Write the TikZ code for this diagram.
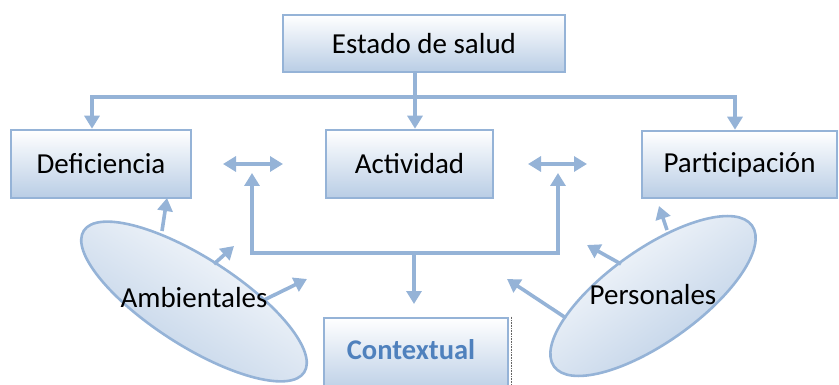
\documentclass[tikz,border=0pt]{standalone}
\usepackage{fontspec}
\setmainfont{Carlito}
\usetikzlibrary{arrows.meta,shapes.geometric}
\definecolor{lblue}{HTML}{95B3D7}
\definecolor{fblue}{HTML}{B9CDE5}
\definecolor{tblue}{HTML}{4F81BD}
\tikzset{
  box/.style={draw=lblue, line width=2.6pt, top color=white, bottom color=fblue, inner sep=0pt,
    font=\fontsize{29}{34}\selectfont},
  oval/.style={ellipse, draw=lblue, line width=2.6pt, top color=white, bottom color=fblue, inner sep=0pt},
  conn/.style={draw=lblue, line width=3.6pt},
  arr/.style={conn, -{Triangle[width=15pt,length=13pt]}},
  darr/.style={conn, {Triangle[width=15pt,length=13pt]}-{Triangle[width=15pt,length=13pt]}},
  lbl/.style={font=\fontsize{29}{34}\selectfont, inner sep=0pt}
}
\begin{document}
\begin{tikzpicture}[x=1pt,y=-1pt]
\useasboundingbox (0,0) rectangle (839,385);
% boxes
\node[box, minimum width=282pt, minimum height=57pt] (salud) at (424,43.5) {Estado de salud};
\node[box, minimum width=180pt, minimum height=68pt] (def) at (101,164) {Deficiencia};
\node[box, minimum width=167pt, minimum height=68pt] (act) at (409.5,164) {Actividad};
\node[box, minimum width=195pt, minimum height=67pt] (par) at (739.5,164.5) {Participación};
\node[box, minimum width=184pt, minimum height=76pt] (ctx) at (416,356) {};
\node[lbl, font=\fontsize{28.5}{34}\selectfont\bfseries, text=tblue] (ctxt) at (411,350) {Contextual};
\draw[black!60, line width=0.6pt, densely dotted] (ctx.north east) ++(2,0) coordinate (de1) -- (de1 |- ctx.south);
% ellipses
\node[oval, minimum width=262pt, minimum height=88pt, rotate=-32.7, shading angle=-32.7] (amb) at (194,301.5) {};
\node[oval, minimum width=243pt, minimum height=93pt, rotate=35.4, shading angle=35.4] (per) at (653,296) {};
% tree from Estado de salud
\coordinate (s0) at (415,97);
\coordinate (sl) at (92,97);
\coordinate (sr) at (735,97);
\draw[conn] (salud.south -| s0) -- (s0);
\draw[conn, line cap=rect] (sl) -- (sr);
\draw[arr] (sl) -- (sl |- def.north);
\draw[arr] (s0) -- (s0 |- act.north);
\draw[arr] (sr) -- (sr |- par.north);
% double arrows
\coordinate (d1a) at (223,164); \coordinate (d1b) at (283,164);
\coordinate (d2a) at (528,164); \coordinate (d2b) at (587,164);
\draw[darr] (d1a) -- (d1b);
\draw[darr] (d2a) -- (d2b);
% bracket
\coordinate (b1) at (252,173); \coordinate (b2) at (252,253);
\coordinate (b3) at (558,253); \coordinate (b4) at (558,173);
\coordinate (bm) at (414,253); \coordinate (bd) at (414,304);
\draw[arr] (b2) -- (b1);
\draw[arr] (b3) -- (b4);
\draw[conn, line cap=rect] (b2) -- (b3);
\draw[arr] (bm) -- (bd);
% Ambientales arrows
\coordinate (a1s) at (162,231); \coordinate (a1t) at (167,198);
\coordinate (a2s) at (214,264); \coordinate (a2t) at (234,246);
\coordinate (a3s) at (264,300); \coordinate (a3t) at (307,279);
\draw[arr] (a1s) -- (a1t);
\draw[arr] (a2s) -- (a2t);
\draw[arr] (a3s) -- (a3t);
% Personales arrows
\coordinate (p1s) at (667,230); \coordinate (p1t) at (659,206);
\coordinate (p2s) at (621,264); \coordinate (p2t) at (587,245);
\coordinate (p3s) at (566,318); \coordinate (p3t) at (507,279);
\draw[arr] (p1s) -- (p1t);
\draw[arr] (p2s) -- (p2t);
\draw[arr] (p3s) -- (p3t);
% labels
\node[lbl] (ambt) at (194,298) {Ambientales};
\node[lbl] (pert) at (653,295) {Personales};
\end{tikzpicture}
\end{document}
